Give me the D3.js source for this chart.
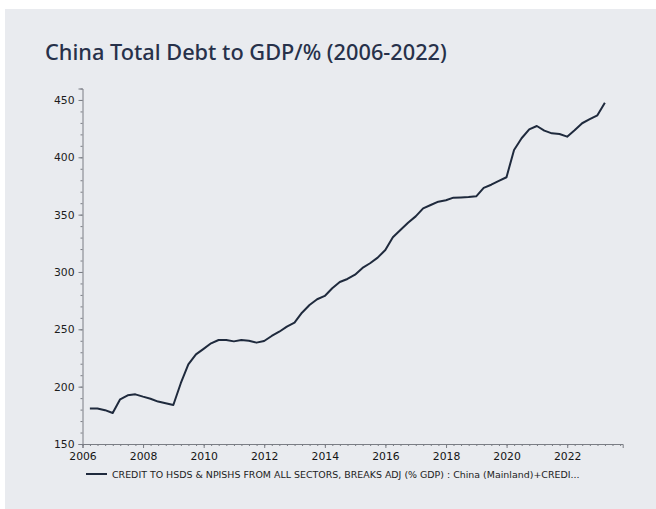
<!DOCTYPE html>
<html>
<head>
<meta charset="utf-8">
<script src="https://cdn.jsdelivr.net/npm/d3@7"></script>
<style>
  html, body { margin: 0; padding: 0; background: #ffffff; }
  svg { display: block; }
</style>
</head>
<body>
<svg id="chart" width="656" height="509"></svg>
<script>
// Quarterly periods (quarter-end observations)
const periods = [
  "2006Q1","2006Q2","2006Q3","2006Q4","2007Q1","2007Q2","2007Q3","2007Q4",
  "2008Q1","2008Q2","2008Q3","2008Q4","2009Q1","2009Q2","2009Q3","2009Q4",
  "2010Q1","2010Q2","2010Q3","2010Q4","2011Q1","2011Q2","2011Q3","2011Q4",
  "2012Q1","2012Q2","2012Q3","2012Q4","2013Q1","2013Q2","2013Q3","2013Q4",
  "2014Q1","2014Q2","2014Q3","2014Q4","2015Q1","2015Q2","2015Q3","2015Q4",
  "2016Q1","2016Q2","2016Q3","2016Q4","2017Q1","2017Q2","2017Q3","2017Q4",
  "2018Q1","2018Q2","2018Q3","2018Q4","2019Q1","2019Q2","2019Q3","2019Q4",
  "2020Q1","2020Q2","2020Q3","2020Q4","2021Q1","2021Q2","2021Q3","2021Q4",
  "2022Q1","2022Q2","2022Q3","2022Q4","2023Q1"
];

// Total credit to the non-financial sector, % of GDP
const debtToGdp = [
  181, 181, 179.5, 177, 189, 192.5, 193.3, 191.3,
  189.5, 187, 185.5, 184, 203, 219.5, 228.2, 233,
  237.8, 240.7, 240.7, 239.5, 240.7, 240, 238.4, 239.8,
  244.2, 247.9, 252.3, 255.8, 264.5, 271.2, 276.2, 279.1,
  285.8, 291.3, 293.9, 297.6, 303.5, 307.6, 312.5, 319.2,
  330.3, 336.6, 343, 348.5, 355.5, 358.4, 361.3, 362.5,
  364.8, 365, 365.3, 366, 373.3, 376.1, 379.4, 382.6,
  406.4, 416.6, 424.4, 427.3, 423.3, 420.9, 420.3, 418,
  423.6, 429.7, 433.2, 436.6, 447.6
];

const yTickValues = [150, 200, 250, 300, 350, 400, 450];
const xTickYears = [2006, 2008, 2010, 2012, 2014, 2016, 2018, 2020, 2022];

const titleText = "China Total Debt to GDP/% (2006-2022)";
const legendText = "CREDIT TO HSDS & NPISHS FROM ALL SECTORS, BREAKS ADJ (% GDP) : China (Mainland)+CREDI...";

// Build the series: each quarter plotted at its last day
const series = periods.map((p, i) => {
  const year = +p.slice(0, 4);
  const q = +p.slice(5);
  return { date: new Date(year, q * 3, 0), value: debtToGdp[i] };
});

const svg = d3.select("#chart");

svg.append("rect")
  .attr("x", 5).attr("y", 9)
  .attr("width", 651).attr("height", 500)
  .attr("fill", "#e9ebef");

const x = d3.scaleTime()
  .domain([new Date(2006, 0, 1), new Date(2023, 10, 1)])
  .range([82.5, 622.7]);

const y = d3.scaleLinear()
  .domain([150, 460])
  .range([444, 88.5]);

const axisColor = "#7a7d84";
const labelFont = "'DejaVu Sans', Verdana, sans-serif";

// Title
const title = svg.append("text")
  .attr("x", 45).attr("y", 60)
  .attr("font-family", "'Noto Sans', 'Open Sans', sans-serif")
  .attr("font-weight", 500)
  .attr("font-size", 22)
  .attr("fill", "#27314a")
  .text(titleText);
{
  const w = title.node().getComputedTextLength();
  title.attr("font-size", 22 * 402 / w);
}

// Y axis: labelled major ticks every 50, minor ticks every 10
const yMinor = svg.append("g").attr("transform", "translate(82.5,0)");
yMinor.call(d3.axisLeft(y).tickValues(d3.range(150, 461, 10)).tickSize(2).tickFormat(""))
  .call(g => g.select(".domain").remove());
const yAxis = svg.append("g").attr("transform", "translate(82.5,0)");
yAxis.call(d3.axisLeft(y).tickValues(yTickValues).tickSize(4).tickPadding(4));
[yMinor, yAxis].forEach(g => {
  g.selectAll("line").attr("stroke", axisColor);
  g.selectAll(".domain").attr("stroke", axisColor);
});
yAxis.selectAll("text")
  .attr("font-family", labelFont)
  .attr("font-size", 10.8)
  .attr("fill", "#1c1c1c");

// X axis: labelled ticks every two years, minor ticks each quarter
const xMinor = svg.append("g").attr("transform", "translate(0,444)");
xMinor.call(d3.axisBottom(x).ticks(d3.timeMonth.every(3)).tickSize(2).tickFormat(""))
  .call(g => g.select(".domain").remove());
const xAxis = svg.append("g").attr("transform", "translate(0,444)");
xAxis.call(d3.axisBottom(x)
  .tickValues(xTickYears.map(yr => new Date(yr, 0, 1)))
  .tickSize(4).tickPadding(4)
  .tickFormat(d3.timeFormat("%Y")));
[xMinor, xAxis].forEach(g => {
  g.selectAll("line").attr("stroke", axisColor);
  g.selectAll(".domain").attr("stroke", axisColor);
});
xAxis.selectAll("text")
  .attr("font-family", labelFont)
  .attr("font-size", 10.8)
  .attr("fill", "#141414");

// Series line
const line = d3.line()
  .x(d => x(d.date))
  .y(d => y(d.value));

svg.append("path")
  .datum(series)
  .attr("d", line)
  .attr("fill", "none")
  .attr("stroke", "#1f2a3d")
  .attr("stroke-width", 2)
  .attr("stroke-linejoin", "round");

// Legend
svg.append("line")
  .attr("x1", 86).attr("x2", 107)
  .attr("y1", 474).attr("y2", 474)
  .attr("stroke", "#1f2a3d")
  .attr("stroke-width", 2);
const legend = svg.append("text")
  .attr("x", 112).attr("y", 477.5)
  .attr("font-family", labelFont)
  .attr("font-size", 9)
  .attr("fill", "#222222")
  .text(legendText);
{
  const w = legend.node().getComputedTextLength();
  legend.attr("font-size", 9 * 468 / w);
}
</script>
</body>
</html>
